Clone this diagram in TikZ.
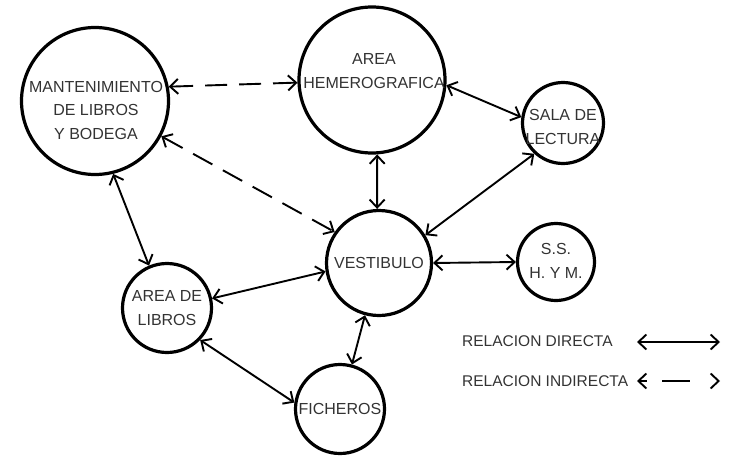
\documentclass[tikz,border=0pt]{standalone}
\usepackage{fontspec}
\setmainfont{Liberation Sans}
\usetikzlibrary{arrows.meta}
\begin{document}
\begin{tikzpicture}[x=1pt,y=-1pt,
 room/.style={circle,draw,line width=3.2pt,inner sep=0pt,minimum size=#1},
 lbl/.style={align=center,font=\fontsize{16}{23.5}\selectfont,text=black!80,inner sep=0pt},
 leg/.style={anchor=west,font=\fontsize{15.5}{17}\selectfont,text=black!80,inner sep=0pt},
 rel/.style={line width=1.9pt,{Straight Barb[length=8pt,width=15pt]}-{Straight Barb[length=8pt,width=15pt]}},
 ind/.style={rel,dash pattern=on 22pt off 12pt}]
\useasboundingbox (0,0) rectangle (736,458);
% rooms
\node[room=147pt] (mant) at (95,101) {};
\node[room=146pt] (hem) at (372,80) {};
\node[room=81pt] (sala) at (563,123) {};
\node[room=105pt] (vest) at (379,263) {};
\node[room=89pt] (lib) at (167,308) {};
\node[room=89pt] (fich) at (340,409) {};
\node[room=77pt] (ss) at (556,262) {};
% labels
\node[lbl] (mant-t) at (96,110) {MANTENIMIENTO\\DE LIBROS\\Y BODEGA};
\node[lbl] (hem-t) at (374,71) {AREA\\HEMEROGRAFICA};
\node[lbl] (sala-t) at (563,127) {SALA DE\\LECTURA};
\node[lbl] (vest-t) at (379,263) {VESTIBULO};
\node[lbl] (lib-t) at (167,308) {AREA DE\\LIBROS};
\node[lbl] (fich-t) at (340,409) {FICHEROS};
\node[lbl] (ss-t) at (556,261) {S.S.\\H. Y M.};
% connectors
\draw[ind] (mant.11) -- (hem.182);
\draw[ind] (mant.-28) -- (vest.145);
\draw[rel] (mant.-76) -- (lib.113);
\draw[rel] (hem.-86) -- (vest.92);
\draw[rel] (hem.-4) -- (sala.172);
\draw[rel] (sala.-133) -- (vest.31);
\draw[rel] (vest.0) -- (ss.180);
\draw[rel] (vest.189) -- (lib.12);
\draw[rel] (vest.-105) -- (fich.75);
\draw[rel] (lib.-44) -- (fich.172);
% legend
\node[leg] (l1) at (462,341) {RELACION DIRECTA};
\node[leg] (l2) at (462,381) {RELACION INDIRECTA};
\coordinate (a1) at (637,342);
\coordinate (b1) at (720,342);
\coordinate (a2) at (637,381);
\coordinate (b2) at (720,381);
\draw[rel] (a1) -- (b1);
\draw[rel,dash pattern=on 8pt off 15pt on 28pt off 40pt] (a2) -- (b2);
\end{tikzpicture}
\end{document}
